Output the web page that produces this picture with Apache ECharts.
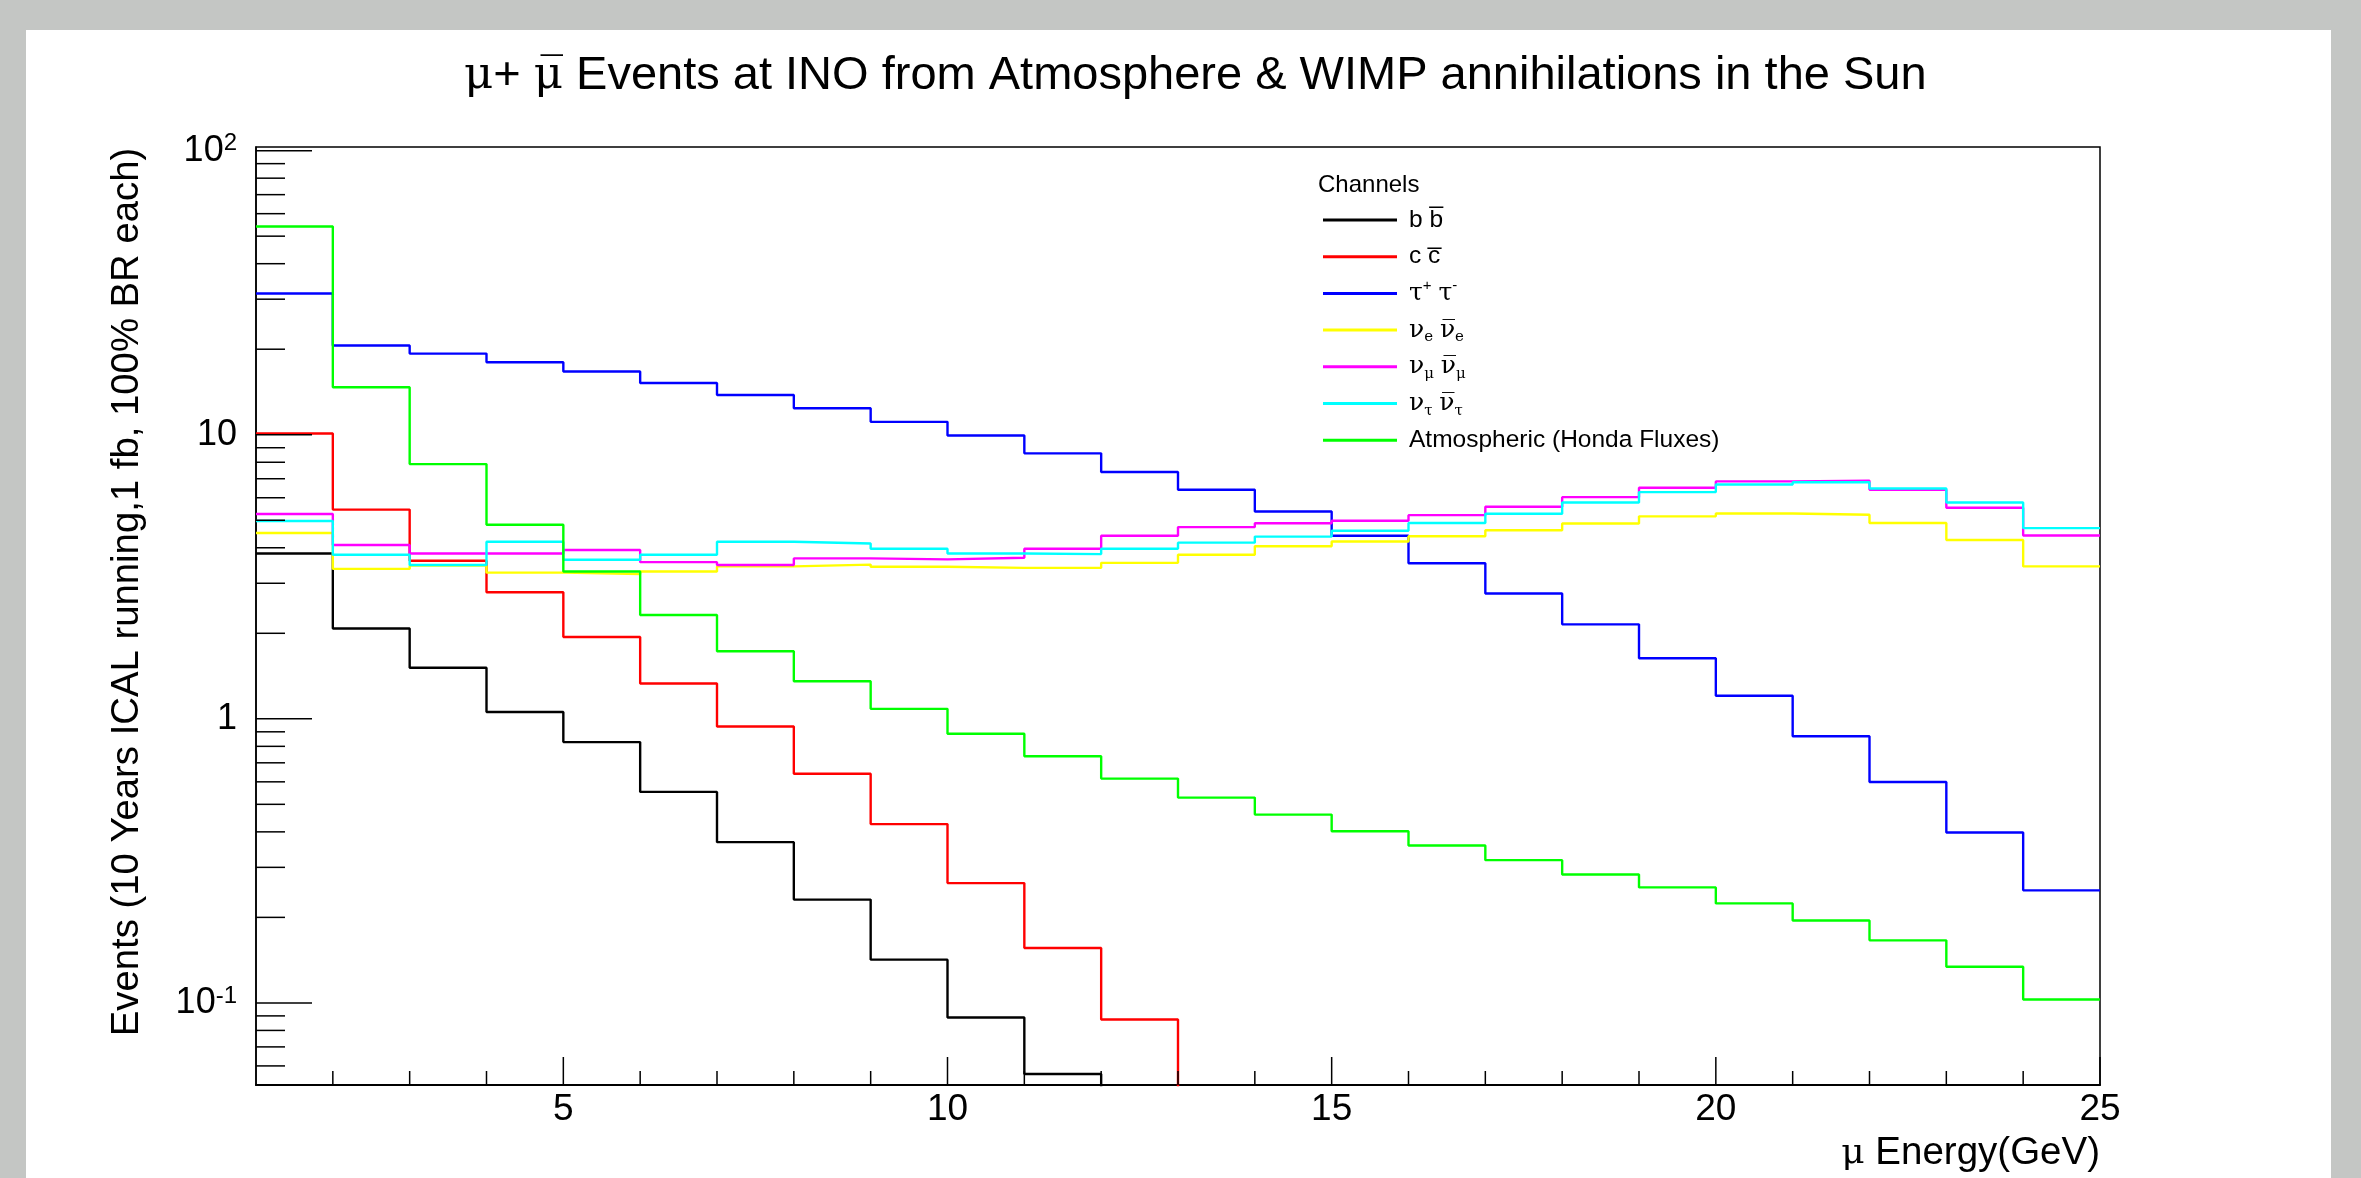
<!DOCTYPE html>
<html>
<head>
<meta charset="utf-8">
<script src="https://cdn.jsdelivr.net/npm/echarts@6/dist/echarts.min.js"></script>
<style>
html,body{margin:0;padding:0;background:#c4c6c4;}
#chart{width:2361px;height:1178px;}
</style>
</head>
<body>
<div id="chart"></div>
<script>
// ---------------- data ----------------
const binLow = [1,2,3,4,5,6,7,8,9,10,11,12,13,14,15,16,17,18,19,20,21,22,23,24];
const X_MIN = 1, X_MAX = 25;
const Y_MIN = 0.0514, Y_MAX = 103;

const bb     = [3.82, 2.08, 1.513, 1.057, 0.828, 0.553, 0.368, 0.231, 0.142, 0.0888, 0.0562, 0, 0, 0, 0, 0, 0, 0, 0, 0, 0, 0, 0, 0];
const cc     = [10.1, 5.45, 3.60, 2.79, 1.94, 1.331, 0.939, 0.641, 0.426, 0.264, 0.156, 0.0874, 0, 0, 0, 0, 0, 0, 0, 0, 0, 0, 0, 0];
const tautau = [31.4, 20.6, 19.3, 18.0, 16.7, 15.2, 13.8, 12.4, 11.1, 9.94, 8.6, 7.39, 6.40, 5.37, 4.41, 3.53, 2.76, 2.15, 1.633, 1.206, 0.868, 0.599, 0.398, 0.249];
const nue    = [4.51, 3.37, 3.46, 3.27, 3.23, 3.30, 3.44, 3.49, 3.43, 3.40, 3.40, 3.54, 3.78, 4.05, 4.21, 4.39, 4.61, 4.87, 5.16, 5.28, 5.23, 4.89, 4.26, 3.44];
const numu   = [5.26, 4.09, 3.82, 3.82, 3.93, 3.56, 3.48, 3.67, 3.64, 3.69, 3.97, 4.41, 4.73, 4.88, 4.98, 5.21, 5.58, 6.03, 6.51, 6.85, 6.89, 6.40, 5.53, 4.42];
const nutau  = [4.97, 3.78, 3.48, 4.20, 3.63, 3.78, 4.20, 4.14, 3.97, 3.82, 3.80, 3.97, 4.17, 4.38, 4.59, 4.89, 5.27, 5.77, 6.28, 6.68, 6.80, 6.47, 5.77, 4.69];
const atm    = [54.1, 14.7, 7.88, 4.82, 3.30, 2.32, 1.73, 1.356, 1.084, 0.886, 0.738, 0.616, 0.528, 0.460, 0.402, 0.358, 0.318, 0.283, 0.255, 0.224, 0.195, 0.166, 0.134, 0.1028];

const legendLabels = [
  'b b\u0305',
  'c c\u0305',
  '{g|\u03c4}{sup|+} {g|\u03c4}{sup|-}',
  '{g|\u03bd}{sub|e} {g|\u03bd\u0305}{sub|e}',
  '{g|\u03bd}{sub|\u03bc} {g|\u03bd\u0305}{sub|\u03bc}',
  '{g|\u03bd}{sub|\u03c4} {g|\u03bd\u0305}{sub|\u03c4}',
  'Atmospheric (Honda Fluxes)'
];
const colors = ['#000000','#ff0000','#0000ff','#ffff00','#ff00ff','#00ffff','#00ff00'];

const xMajorTicks = [5,10,15,20,25];
const xMinorTicks = [2,3,4,6,7,8,9,11,12,13,14,16,17,18,19,21,22,23,24];
const yMajorTicks = [0.1,1,10,100];
const yMinorTicks = [0.06,0.07,0.08,0.09,0.2,0.3,0.4,0.5,0.6,0.7,0.8,0.9,2,3,4,5,6,7,8,9,20,30,40,50,60,70,80,90];

// --------------- build ---------------
const allValues = [bb, cc, tautau, nue, numu, nutau, atm];
// empty bins fall below the log-axis range and are clipped by the frame
const EMPTY = Y_MIN / 100;
function histData(vals){
  const d = binLow.map((x,i)=>[x, vals[i] > 0 ? vals[i] : EMPTY]);
  const last = vals[vals.length-1];
  d.push([X_MAX, last > 0 ? last : EMPTY]);
  return d;
}
const lineSeries = allValues.map((vals,i)=>({
  name: legendLabels[i],
  type: 'line',
  step: 'end',
  symbol: 'none',
  clip: true,
  data: histData(vals),
  lineStyle: {color: colors[i], width: 2.4},
  itemStyle: {color: colors[i]},
  z: 3 + i
}));

const FONT = '"Liberation Sans", Arial, Helvetica, sans-serif';
const GREEK = '"DejaVu Serif", "Liberation Serif", serif';

const chart = echarts.init(document.getElementById('chart'), null, {renderer:'canvas'});
const option = {
  animation: false,
  backgroundColor: '#c4c6c4',
  graphic: [{
    type:'rect', z:-10, silent:true,
    shape:{x:26, y:30, width:2305, height:1148},
    style:{fill:'#ffffff'}
  }],
  title: [{
    text: '{g|\u03bc}+ {g|\u03bc\u0305} Events at INO from Atmosphere & WIMP annihilations in the Sun',
    left: 459, top: 48,
    textStyle: {fontFamily: FONT, fontSize: 47, fontWeight: 'normal', color:'#000',
      rich: {g:{fontFamily: GREEK, fontSize: 45, color:'#000'}}}
  },{
    text: 'Channels',
    left: 1313, top: 168,
    textStyle: {fontFamily: FONT, fontSize: 24, fontWeight:'normal', color:'#000'}
  }],
  legend: {
    data: legendLabels,
    orient: 'vertical',
    left: 1318, top: 200,
    itemWidth: 74, itemHeight: 3,
    itemGap: 6.7,
    icon: 'rect',
    selectedMode: false,
    textStyle: {fontFamily: FONT, fontSize: 24.5, color:'#000', lineHeight: 30, padding:[0,0,0,7],
      rich: {
        g:{fontFamily: GREEK, fontSize: 25, color:'#000', lineHeight:30},
        sub:{fontFamily: GREEK, fontSize: 15, color:'#000', verticalAlign:'bottom', lineHeight: 22},
        sup:{fontFamily: FONT, fontSize: 15, color:'#000', verticalAlign:'top', lineHeight: 22}
      }}
  },
  grid: {left:256, top:147, width:1844, height:938, show:true, borderColor:'#000', borderWidth:1.5, backgroundColor:'transparent'},
  xAxis: {
    type:'value', min:X_MIN, max:X_MAX, splitNumber:5,
    name: '{g|\u03bc} Energy(GeV)',
    nameLocation:'end', nameGap: 0,
    nameTextStyle:{fontFamily:FONT, fontSize:38.5, color:'#000', align:'right', verticalAlign:'top', padding:[49,0,0,0],
      rich:{g:{fontFamily: GREEK, fontSize:36, color:'#000'}}},
    axisLine:{show:true, lineStyle:{color:'#000', width:2}},
    axisTick:{show:false},
    splitLine:{show:false},
    axisLabel:{fontFamily:FONT, fontSize:37, color:'#000', margin:6,
      formatter: v => (v === X_MIN ? '' : String(v))}
  },
  yAxis: {
    type:'log', logBase:10, min:Y_MIN, max:Y_MAX,
    name: 'Events (10 Years ICAL running,1 fb, 100% BR each)',
    nameLocation:'middle', nameRotate:90, nameGap:110,
    nameTextStyle:{fontFamily:FONT, fontSize:38.3, color:'#000', padding:[0,0,0,48]},
    axisLine:{show:true, lineStyle:{color:'#000', width:1.5}},
    axisTick:{show:false},
    splitLine:{show:false},
    axisLabel:{fontFamily:FONT, fontSize:36, color:'#000', margin:19,
      formatter: v => {
        const l = Math.log10(v), r = Math.round(l);
        if (Math.abs(l - r) > 1e-6) return '';
        if (r === 0) return '1';
        if (r === 1) return '10';
        return '10{sup|' + r + '}';
      },
      rich:{sup:{fontFamily:FONT, fontSize:24, color:'#000', verticalAlign:'top', padding:[0,0,14,0]}}}
  },
  series: [
    ...lineSeries,
    {
      type:'custom', name:'yticks', silent:true, clip:false, z:20,
      data: yMajorTicks.map(v=>[X_MIN, v, 1]).concat(yMinorTicks.map(v=>[X_MIN, v, 0])),
      encode:{x:0, y:1},
      renderItem:(params, api)=>{
        const p = api.coord([api.value(0), api.value(1)]);
        const len = api.value(2) ? 56 : 29;
        return {type:'line', shape:{x1:p[0], y1:p[1], x2:p[0]+len, y2:p[1]}, style:{stroke:'#000', lineWidth:1.5}};
      }
    },
    {
      type:'custom', name:'xticks', silent:true, clip:false, z:20,
      data: xMajorTicks.map(v=>[v, Y_MIN, 1]).concat(xMinorTicks.map(v=>[v, Y_MIN, 0])),
      encode:{x:0, y:1},
      renderItem:(params, api)=>{
        const p = api.coord([api.value(0), api.value(1)]);
        const len = api.value(2) ? 28 : 14;
        return {type:'line', shape:{x1:p[0], y1:p[1], x2:p[0], y2:p[1]-len}, style:{stroke:'#000', lineWidth:1.5}};
      }
    }
  ]
};
chart.setOption(option);
</script>
</body>
</html>
